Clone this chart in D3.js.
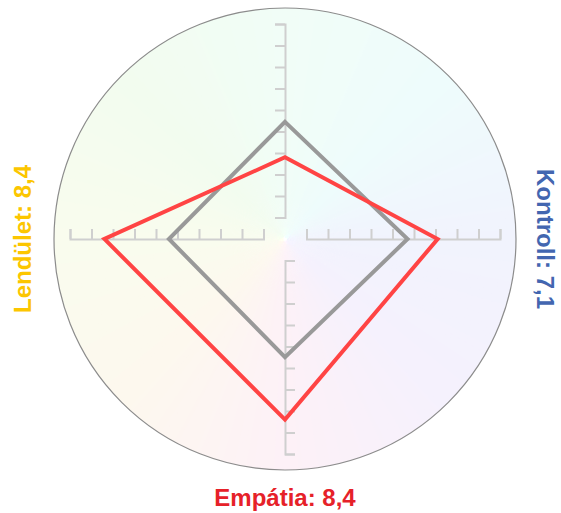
<!DOCTYPE html>
<html>
<head>
<meta charset="utf-8">
<script src="https://cdn.jsdelivr.net/npm/d3@7"></script>
<style>
  html, body { margin: 0; padding: 0; background: #ffffff; }
  svg { display: block; }
  text { font-family: "Liberation Sans", Arial, sans-serif; font-weight: bold; }
</style>
</head>
<body>
<svg id="chart" width="561" height="513"></svg>
<script>
// ---- data ----
const categories = [null, "Kontroll", "Empátia", "Lendület"]; // top axis label not visible
const categoryColors = ["#5cb85c", "#4366b0", "#e62129", "#fcc600"];
const profileValues = [3.8, 7.1, 8.4, 8.4];
const referenceValues = [5.45, 5.7, 5.5, 5.4];
const tickValues = [1, 2, 3, 4, 5, 6, 7, 8, 9, 10];
const bgAngles = [0, 45, 90, 135, 180, 225, 270, 315, 360];
const bgColors = ["#f1fdf7", "#eefcfc", "#f1f3fd", "#f5f1fd", "#fdf1f7", "#fdf8ee", "#f9fcee", "#f2fcef", "#f1fdf7"];

// ---- layout ----
const W = 561, H = 513;
const cx = 285, cy = 239, R = 231;
const svg = d3.select("#chart");
const g = svg.append("g").attr("transform", `translate(${cx},${cy})`);

const rScale = d3.scaleLinear().domain([0, 10]).range([0, 215]);
const angle = d3.scaleLinear().domain([0, categories.length]).range([0, 2 * Math.PI]);

// background conic gradient made of thin wedges
const bgColor = d3.scaleLinear().domain(bgAngles).range(bgColors).interpolate(d3.interpolateRgb);
const arc = d3.arc().innerRadius(0).outerRadius(R);
const steps = d3.range(0, 360, 1);
g.append("g").selectAll("path").data(steps).join("path")
  .attr("d", a => arc({ startAngle: (a - 0.3) * Math.PI / 180, endAngle: (a + 1.3) * Math.PI / 180 }))
  .attr("fill", a => bgColor(a + 0.5));

g.append("circle").attr("r", R).attr("fill", "none").attr("stroke", "#8c8c8c").attr("stroke-width", 1.2);

// axes
const axisDomain = d3.extent(tickValues);
function styleAxis(sel) {
  sel.selectAll(".domain").attr("stroke", "#cfcfcf").attr("stroke-width", 2);
  sel.selectAll(".tick line").attr("stroke", "#cfcfcf").attr("stroke-width", 2);
  sel.selectAll(".tick text").remove();
}
const neg = d3.scaleLinear().domain(axisDomain).range([-rScale(axisDomain[0]), -rScale(axisDomain[1])]);
const pos = d3.scaleLinear().domain(axisDomain).range([rScale(axisDomain[0]), rScale(axisDomain[1])]);
const axisDefs = [
  d3.axisLeft(neg),   // top
  d3.axisTop(pos),    // right
  d3.axisRight(pos),  // bottom
  d3.axisTop(neg)     // left
];
axisDefs.forEach(ax => {
  g.append("g")
    .call(ax.tickValues(tickValues).tickSize(10).tickSizeOuter(10).tickFormat(""))
    .call(styleAxis);
});

// series polygons
const radial = d3.lineRadial()
  .angle((d, i) => angle(i))
  .radius(d => rScale(d))
  .curve(d3.curveLinearClosed);

g.append("path").datum(referenceValues)
  .attr("d", radial).attr("fill", "none")
  .attr("stroke", "#999999").attr("stroke-width", 4).attr("stroke-linejoin", "miter");
g.append("path").datum(profileValues)
  .attr("d", radial).attr("fill", "none")
  .attr("stroke", "#ff4444").attr("stroke-width", 4).attr("stroke-linejoin", "miter");

// labels
const fmt = v => d3.format(".1f")(v).replace(".", ",");
const labelPos = [null, { x: 545, y: 0, rot: 90 }, { x: 0, y: 258, rot: 0 }, { x: -263, y: 0, rot: -90 }];
categories.forEach((c, i) => {
  if (!c) return;
  const p = labelPos[i];
  g.append("text")
    .attr("transform", `translate(${p.x - (i === 1 ? cx : 0)},${p.y}) rotate(${p.rot})`)
    .attr("text-anchor", "middle")
    .attr("dominant-baseline", "central")
    .attr("font-size", 24)
    .attr("fill", categoryColors[i])
    .text(`${c}: ${fmt(profileValues[i])}`);
});
</script>
</body>
</html>
